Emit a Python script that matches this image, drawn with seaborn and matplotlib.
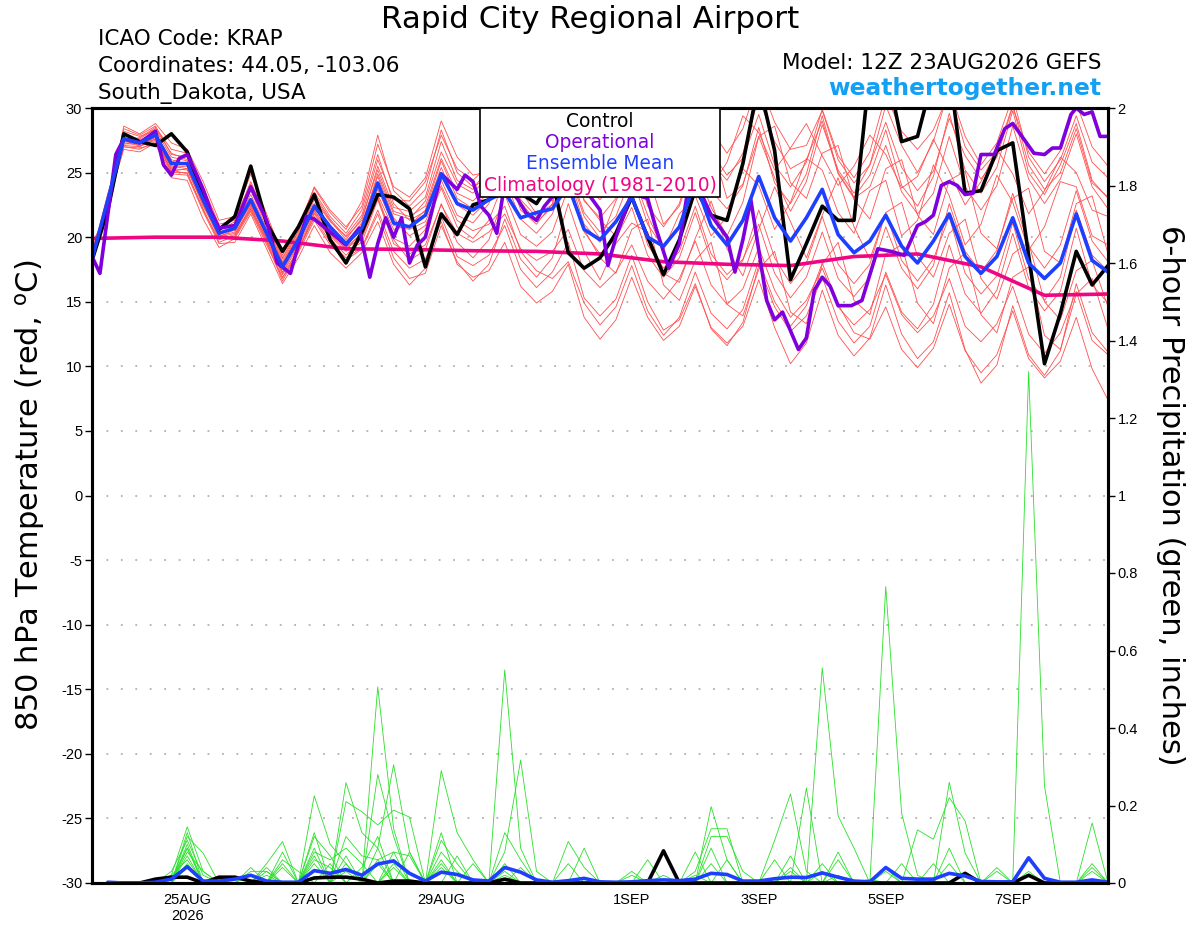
import numpy as np
import pandas as pd
import seaborn as sns
import matplotlib.pyplot as plt
from matplotlib.patches import Rectangle
from matplotlib.ticker import FuncFormatter

# GEFS run 12Z 23AUG2026, 6-hourly steps out to 384 h (65 steps)
n_steps = 65
date_ticks = [6, 14, 22, 34, 42, 50, 58]
date_labels = ['25AUG\n2026', '27AUG', '29AUG', '1SEP', '3SEP', '5SEP', '7SEP']

# 850 hPa temperature (C)
control_temp = [18.2, 22.1, 28.0, 27.4, 27.1, 28.0, 26.6, 23.1, 20.6, 21.6, 25.5, 21.1, 18.9, 20.8, 23.3, 19.8,
                18.0, 20.4, 23.3, 23.1, 22.2, 17.7, 21.8, 20.2, 22.5, 22.9, 23.8, 23.4, 22.6, 24.5, 18.8, 17.6,
                18.4, 20.3, 23.1, 20.0, 17.1, 19.8, 23.7, 21.7, 21.3, 25.7, 32.0, 26.7, 16.7, 19.5, 22.4, 21.3,
                21.3, 33.0, 33.5, 27.4, 27.8, 32.5, 33.0, 23.4, 23.6, 26.7, 27.3, 18.6, 10.2, 14.1, 18.9, 16.3, 17.8]
mean_temp = [18.3, 22.9, 27.6, 27.3, 27.9, 25.7, 25.7, 22.9, 20.3, 20.7, 22.9, 20.3, 17.7, 19.8, 22.4, 20.8,
             19.5, 20.7, 24.2, 21.1, 20.8, 21.7, 24.9, 22.6, 22.1, 22.9, 23.5, 21.5, 21.9, 22.2, 24.0, 20.6,
             19.8, 21.2, 23.1, 20.0, 19.3, 20.8, 24.3, 20.9, 19.4, 21.3, 24.7, 21.5, 19.7, 21.5, 23.7, 20.2,
             18.8, 19.7, 21.7, 19.3, 18.0, 19.7, 21.8, 18.5, 17.2, 18.5, 21.5, 18.0, 16.8, 18.0, 21.8, 18.2, 17.3]

# operational run is 3-hourly with irregular output, keyed by forecast hour
op_hours = [0, 3, 9, 12, 18, 24, 27, 30, 33, 36, 39, 42, 45, 48, 54, 60, 66, 70, 75, 81,
            84, 90, 96, 101, 105, 108, 111, 114, 117, 120, 123, 126, 132, 138, 141, 144, 147, 150, 153, 156,
            161, 164, 168, 171, 180, 186, 192, 195, 198, 204, 210, 213, 218, 222, 225, 228, 234, 240, 243, 246,
            249, 255, 258, 261, 267, 270, 273, 276, 279, 282, 287, 291, 297, 302, 307, 312, 315, 318, 321, 324,
            327, 330, 333, 336, 341, 345, 348, 356, 360, 363, 366, 370, 372, 375, 378, 381, 384]
op_temp = [18.5, 17.2, 26.4, 27.6, 27.3, 28.2, 25.6, 24.8, 26.1, 26.4, 25.1, 23.7, 22.0, 20.7, 20.9, 23.9, 21.3, 18.0, 17.2, 21.6,
           21.4, 20.4, 19.4, 20.7, 16.9, 19.5, 21.5, 20.0, 21.5, 18.0, 19.4, 20.0, 24.9, 23.7, 24.8, 24.3, 22.4, 21.7, 20.3, 24.2,
           22.9, 21.9, 21.3, 22.4, 24.6, 23.8, 22.1, 17.8, 20.0, 23.4, 23.0, 20.8, 17.6, 19.5, 23.4, 24.4, 21.7, 20.0, 17.3, 19.8,
           22.9, 15.1, 13.6, 14.2, 11.3, 12.2, 15.9, 16.9, 16.2, 14.7, 14.7, 15.1, 19.1, 18.9, 18.6, 20.9, 21.2, 21.7, 24.0, 24.3,
           24.0, 23.3, 23.4, 26.4, 26.4, 28.4, 28.8, 26.5, 26.4, 26.9, 26.9, 29.5, 30.0, 29.5, 29.7, 27.8, 27.8]

# 1981-2010 climatology, one value per day
clim_steps = [0, 4, 8, 12, 16, 20, 24, 28, 32, 36, 40, 44, 48, 52, 56, 60, 64]
clim_temp = [19.9, 20.0, 20.0, 19.7, 19.1, 19.05, 18.95, 18.9, 18.7, 18.1, 17.9, 17.8, 18.5, 18.7, 17.7, 15.5, 15.6]

member_temps = [
    [18.8, 22.5, 27.9, 27.6, 28.4, 26.5, 26.0, 23.4, 20.8, 21.0, 23.6, 20.9, 18.0, 20.2, 23.1, 21.3,
     19.8, 21.5, 25.2, 22.0, 21.6, 22.4, 26.1, 23.4, 22.8, 24.0, 27.2, 24.5, 23.8, 25.0, 28.5, 25.6,
     24.2, 26.8, 27.9, 24.1, 25.3, 28.2, 27.0, 23.9, 25.8, 29.4, 28.1, 25.2, 26.9, 28.8, 26.3, 24.0,
     25.5, 27.9, 26.4, 23.8, 24.7, 27.6, 25.1, 22.5, 24.3, 26.8, 24.9, 21.8, 23.6, 26.2, 25.0, 22.1, 21.6],
    [18.0, 23.2, 27.1, 27.0, 27.6, 25.0, 25.0, 22.1, 19.8, 20.2, 22.4, 19.8, 17.2, 19.3, 21.8, 20.1,
     18.9, 19.6, 22.9, 19.5, 18.7, 19.4, 22.5, 20.3, 19.6, 20.4, 21.8, 19.1, 18.2, 18.9, 20.6, 17.4,
     16.1, 17.3, 19.4, 16.6, 15.2, 16.8, 19.7, 16.3, 14.8, 16.0, 19.2, 15.9, 13.8, 15.1, 17.6, 14.6,
     13.2, 14.4, 17.1, 14.0, 12.6, 13.9, 16.8, 13.1, 11.9, 13.3, 16.2, 12.5, 11.0, 12.6, 15.8, 12.0, 10.9],
    [19.5, 22.0, 28.6, 28.0, 28.8, 27.3, 26.8, 24.3, 21.3, 21.6, 24.9, 21.8, 18.6, 20.9, 23.8, 21.9,
     20.6, 22.8, 27.9, 23.6, 22.4, 23.7, 28.3, 25.0, 23.9, 24.6, 28.9, 25.7, 24.1, 22.8, 25.3, 21.9,
     20.4, 21.6, 24.8, 21.0, 19.2, 20.9, 25.6, 22.3, 20.1, 22.7, 27.8, 24.6, 22.0, 24.3, 28.7, 25.2,
     23.4, 25.6, 30.2, 27.1, 25.0, 27.4, 31.5, 27.8, 25.6, 27.3, 30.9, 26.2, 24.3, 26.0, 29.4, 25.8, 24.6],
    [17.8, 22.8, 27.0, 26.9, 27.2, 24.6, 24.4, 21.4, 19.2, 19.9, 22.0, 19.4, 16.9, 18.8, 21.3, 19.4,
     18.2, 19.1, 21.8, 18.4, 16.8, 17.2, 20.9, 18.1, 16.6, 17.9, 21.4, 18.3, 16.9, 18.4, 22.6, 18.9,
     16.7, 19.5, 21.1, 20.4, 17.2, 16.5, 19.9, 22.8, 19.1, 17.0, 20.6, 23.9, 21.2, 18.4, 21.7, 24.6,
     20.8, 18.3, 21.9, 22.7, 18.5, 16.9, 20.3, 21.4, 16.8, 15.2, 18.7, 19.6, 15.0, 13.6, 17.4, 18.2, 14.6],
    [18.5, 23.0, 28.2, 27.8, 28.3, 26.2, 25.9, 23.2, 20.6, 20.9, 23.3, 20.7, 17.9, 20.1, 22.9, 21.2,
     20.1, 21.7, 26.0, 22.9, 22.8, 24.3, 27.9, 25.3, 24.4, 25.6, 29.1, 26.2, 25.1, 26.8, 30.4, 27.0,
     25.8, 27.2, 31.2, 28.1, 26.4, 27.9, 31.8, 28.3, 26.5, 28.4, 32.2, 28.9, 26.8, 27.1, 29.8, 26.0,
     24.2, 25.6, 28.9, 25.4, 23.6, 25.1, 29.2, 26.3, 24.5, 26.2, 30.1, 26.6, 24.9, 26.7, 30.4, 27.0, 25.5],
    [18.2, 22.6, 27.4, 27.2, 27.7, 25.3, 25.2, 22.6, 20.1, 20.4, 22.6, 20.0, 17.5, 19.6, 22.1, 20.4,
     19.2, 20.3, 23.7, 20.9, 20.6, 21.2, 24.0, 21.3, 20.5, 21.0, 22.4, 18.9, 17.4, 16.8, 18.1, 14.9,
     13.2, 14.6, 17.8, 14.3, 12.4, 13.8, 17.3, 14.1, 12.9, 14.4, 18.2, 15.0, 13.1, 14.7, 18.0, 14.8,
     12.6, 12.1, 14.6, 11.3, 9.9, 11.4, 14.8, 11.2, 9.5, 10.9, 14.3, 10.6, 9.1, 10.4, 13.8, 9.8, 7.4],
    [19.0, 22.2, 27.7, 27.5, 28.1, 25.8, 26.3, 23.6, 20.4, 20.5, 23.0, 20.5, 17.6, 19.9, 22.6, 20.9,
     19.4, 20.9, 24.9, 21.8, 21.4, 22.8, 26.6, 24.1, 23.4, 24.8, 26.3, 22.7, 21.2, 22.3, 24.9, 21.0,
     19.6, 22.8, 25.1, 21.7, 19.0, 21.8, 23.2, 20.1, 21.6, 25.3, 24.0, 20.6, 22.7, 26.1, 25.2, 21.9,
     20.3, 23.6, 24.4, 20.1, 21.3, 25.6, 23.2, 19.4, 21.0, 24.8, 22.7, 19.0, 20.8, 24.3, 23.9, 20.1, 19.4],
    [18.6, 23.4, 27.3, 27.1, 27.5, 25.4, 25.5, 22.7, 20.0, 20.6, 22.5, 20.2, 17.3, 19.5, 22.0, 20.5,
     19.6, 21.1, 24.7, 21.5, 20.1, 20.9, 23.8, 20.8, 19.9, 21.3, 24.5, 21.4, 20.3, 21.8, 25.1, 21.6,
     19.9, 21.1, 23.5, 19.4, 17.6, 18.9, 22.4, 18.7, 17.1, 18.3, 21.0, 17.2, 15.3, 16.9, 20.4, 16.8,
     15.4, 16.9, 20.8, 17.6, 16.0, 17.8, 22.6, 18.9, 17.3, 19.0, 23.4, 19.3, 17.6, 19.4, 23.6, 19.7, 18.1],
    [18.9, 22.4, 28.0, 27.4, 28.0, 26.0, 25.6, 22.9, 20.5, 21.2, 23.9, 21.2, 18.3, 20.5, 23.5, 21.6,
     20.3, 22.1, 26.4, 22.6, 21.3, 22.0, 25.4, 22.5, 21.7, 22.9, 25.8, 22.1, 21.0, 22.6, 26.7, 22.8,
     21.5, 23.0, 26.6, 22.4, 20.8, 22.6, 27.1, 23.6, 22.2, 24.0, 28.5, 24.2, 22.6, 24.9, 29.4, 25.0,
     23.1, 24.8, 28.3, 24.0, 22.4, 24.7, 29.6, 25.2, 23.4, 25.4, 29.8, 25.0, 23.3, 25.6, 28.8, 24.4, 23.0],
    [18.4, 22.7, 26.8, 26.6, 27.3, 24.9, 24.8, 22.0, 19.5, 19.6, 21.8, 19.1, 16.4, 18.4, 20.9, 18.8,
     17.6, 18.8, 21.2, 17.9, 16.3, 17.6, 21.6, 18.5, 17.8, 18.6, 20.9, 17.5, 16.1, 17.3, 19.6, 15.3,
     13.9, 15.2, 18.6, 15.0, 12.8, 13.6, 16.4, 12.9, 11.6, 13.4, 17.8, 14.6, 12.7, 13.9, 16.9, 13.5,
     11.8, 13.1, 17.3, 14.2, 12.9, 14.8, 19.4, 15.6, 14.1, 15.9, 20.3, 16.1, 14.3, 15.8, 20.7, 16.3, 14.9],
    [18.1, 23.1, 27.8, 27.0, 27.8, 25.5, 25.3, 22.4, 20.2, 20.8, 22.8, 20.4, 17.8, 20.0, 22.5, 20.6,
     19.0, 20.4, 23.3, 20.6, 20.9, 22.1, 25.9, 23.0, 22.2, 23.5, 27.6, 24.6, 23.4, 24.2, 26.8, 22.9,
     21.3, 20.1, 23.6, 24.9, 21.0, 22.4, 26.1, 27.3, 23.0, 24.1, 27.8, 28.6, 24.2, 23.0, 26.5, 27.1,
     22.9, 21.4, 25.3, 26.0, 21.7, 20.2, 24.4, 25.1, 20.3, 19.1, 23.0, 23.8, 18.9, 18.0, 22.6, 23.2, 18.7],
    [19.2, 22.1, 27.5, 27.7, 28.5, 26.8, 26.5, 23.9, 21.0, 21.3, 24.3, 21.5, 18.4, 20.7, 23.9, 22.1,
     20.8, 22.4, 27.2, 23.9, 23.1, 24.6, 29.0, 26.2, 24.8, 25.1, 27.8, 23.6, 21.8, 22.5, 24.6, 20.4,
     18.7, 19.9, 22.3, 18.6, 16.9, 18.4, 21.9, 18.2, 16.7, 18.2, 22.1, 18.4, 16.4, 18.0, 21.6, 17.9,
     16.4, 17.9, 21.9, 18.2, 16.6, 18.3, 21.6, 17.2, 15.6, 17.0, 21.1, 16.8, 15.1, 16.9, 22.1, 18.6, 17.4],
    [17.9, 22.9, 27.2, 27.3, 27.9, 25.6, 25.8, 22.8, 20.0, 20.3, 22.2, 19.7, 16.8, 19.1, 21.6, 19.9,
     18.6, 19.9, 23.1, 19.9, 19.3, 20.6, 24.4, 21.7, 21.1, 22.6, 26.0, 22.9, 21.6, 23.1, 27.3, 24.1,
     22.9, 24.3, 28.1, 25.0, 23.7, 25.1, 29.1, 25.8, 24.4, 26.5, 30.8, 27.4, 25.3, 26.0, 29.0, 24.9,
     23.0, 23.9, 27.1, 23.5, 21.8, 23.4, 27.8, 23.9, 22.1, 24.0, 28.6, 24.5, 22.6, 24.5, 28.0, 23.9, 22.2],
    [18.7, 22.6, 27.6, 27.2, 27.6, 25.1, 25.3, 22.5, 19.9, 20.0, 22.3, 19.9, 17.1, 19.0, 21.5, 19.6,
     18.4, 19.2, 22.1, 18.9, 17.6, 18.3, 21.2, 17.9, 16.9, 17.4, 19.6, 16.2, 14.9, 15.8, 17.9, 13.8,
     12.1, 13.6, 16.9, 13.8, 12.0, 13.1, 16.2, 13.0, 11.8, 13.1, 16.7, 13.0, 10.2, 11.8, 15.9, 12.4,
     10.8, 12.2, 16.3, 12.5, 10.6, 11.9, 15.7, 11.3, 8.7, 10.1, 14.7, 10.9, 9.3, 11.2, 16.4, 12.6, 11.1],
    [18.3, 23.0, 28.4, 27.9, 28.6, 26.4, 26.2, 23.1, 20.7, 21.4, 24.1, 21.0, 18.1, 20.4, 23.3, 21.4,
     20.0, 21.3, 25.5, 22.3, 22.0, 23.1, 27.4, 24.4, 23.7, 25.4, 29.6, 26.9, 25.6, 26.2, 29.2, 25.4,
     24.0, 25.9, 29.9, 26.8, 25.1, 26.8, 30.4, 26.6, 24.8, 26.1, 29.5, 25.6, 23.9, 25.8, 29.9, 26.3,
     24.6, 26.6, 31.0, 28.2, 26.8, 28.3, 31.2, 27.0, 25.2, 26.6, 30.2, 25.6, 23.7, 25.0, 28.4, 24.2, 23.1],
    [18.0, 22.3, 27.0, 26.8, 27.4, 25.2, 24.9, 22.2, 19.6, 20.1, 22.1, 19.6, 16.6, 18.9, 21.9, 20.2,
     19.1, 20.0, 23.0, 19.8, 18.2, 19.0, 22.6, 19.6, 18.4, 19.8, 23.3, 20.2, 19.3, 20.4, 23.8, 20.6,
     18.4, 17.2, 20.6, 21.4, 16.3, 15.1, 18.2, 19.6, 14.8, 13.9, 17.5, 18.9, 14.2, 13.3, 17.9, 19.6,
     15.1, 14.0, 18.7, 19.4, 14.9, 13.3, 17.6, 18.8, 14.0, 12.6, 16.9, 17.7, 12.4, 11.3, 15.6, 16.8, 12.9],
]

# 6-hour precipitation (inches); step 0 has no accumulation
nan = np.nan
control_precip = [nan, 0, 0, 0, 0.01, 0.015, 0.015, 0, 0.015, 0.015, 0.005, 0, 0, 0, 0.013, 0.015,
                  0.015, 0.01, 0, 0.005, 0.005, 0, 0, 0, 0, 0, 0.01, 0, 0, 0, 0, 0,
                  0, 0, 0, 0, 0.083, 0, 0, 0, 0, 0, 0, 0, 0, 0, 0, 0,
                  0, 0, 0, 0, 0, 0, 0, 0.025, 0, 0, 0, 0.02, 0, 0, 0, 0, 0]
mean_precip = [nan, 0.002, 0, 0, 0.002, 0.01, 0.042, 0.005, 0.005, 0.01, 0.02, 0.005, 0.002, 0.002, 0.032, 0.025,
               0.035, 0.02, 0.049, 0.057, 0.025, 0.005, 0.028, 0.022, 0.008, 0.005, 0.04, 0.028, 0.008, 0.002, 0.006, 0.012,
               0.003, 0.002, 0.003, 0.006, 0.008, 0.006, 0.01, 0.025, 0.022, 0.005, 0.005, 0.011, 0.015, 0.014, 0.026, 0.015,
               0.005, 0.003, 0.04, 0.012, 0.01, 0.01, 0.025, 0.018, 0.004, 0.003, 0.003, 0.065, 0.012, 0.002, 0.002, 0.008, 0.002]

# ensemble member precipitation, listed as {step: amount}; all other steps are dry
member_precip = [
    {5: 0.02, 6: 0.145, 7: 0.03, 14: 0.225, 15: 0.10, 16: 0.05, 18: 0.506, 19: 0.14, 22: 0.06, 26: 0.13, 27: 0.06,
     39: 0.197, 40: 0.06, 44: 0.07, 46: 0.05, 54: 0.09, 59: 0.03},
    {6: 0.12, 7: 0.077, 11: 0.05, 12: 0.107, 16: 0.259, 17: 0.13, 18: 0.09, 19: 0.305, 20: 0.08, 22: 0.13, 26: 0.55,
     27: 0.09, 30: 0.107, 31: 0.04, 43: 0.11, 44: 0.23, 45: 0.03, 50: 0.04, 54: 0.26, 55: 0.077, 63: 0.04},
    {6: 0.10, 10: 0.04, 12: 0.08, 14: 0.13, 16: 0.21, 17: 0.184, 18: 0.15, 19: 0.188, 20: 0.17, 22: 0.29, 23: 0.13,
     24: 0.06, 38: 0.03, 39: 0.14, 40: 0.14, 46: 0.555, 47: 0.173, 48: 0.09, 57: 0.04, 63: 0.155},
    {5: 0.01, 6: 0.09, 11: 0.04, 14: 0.12, 15: 0.07, 18: 0.28, 19: 0.12, 23: 0.07, 26: 0.08, 27: 0.317, 28: 0.03,
     35: 0.06, 39: 0.12, 40: 0.12, 41: 0.03, 45: 0.245, 47: 0.08, 50: 0.765, 51: 0.18, 52: 0.02, 59: 1.32, 60: 0.25},
    {6: 0.08, 7: 0.03, 12: 0.06, 13: 0.03, 16: 0.12, 17: 0.07, 18: 0.06, 19: 0.08, 22: 0.11, 23: 0.05, 31: 0.09,
     38: 0.08, 44: 0.03, 47: 0.06, 52: 0.137, 53: 0.113, 54: 0.22, 55: 0.16, 63: 0.05},
    {6: 0.07, 10: 0.03, 11: 0.03, 14: 0.08, 15: 0.06, 16: 0.09, 17: 0.05, 19: 0.08, 20: 0.07, 26: 0.05, 30: 0.05,
     34: 0.03, 39: 0.05, 43: 0.06, 51: 0.05, 53: 0.05, 57: 0.03},
    {5: 0.02, 6: 0.06, 12: 0.04, 14: 0.06, 15: 0.04, 18: 0.09, 20: 0.08, 22: 0.05, 24: 0.05, 36: 0.02, 40: 0.06},
    {6: 0.05, 8: 0.01, 16: 0.05, 18: 0.06, 26: 0.03, 34: 0.02, 49: 0.01, 54: 0.05},
    {5: 0.03, 6: 0.11, 7: 0.02, 11: 0.02, 14: 0.09, 16: 0.07, 19: 0.05, 22: 0.08, 23: 0.03},
    {6: 0.13, 10: 0.02, 12: 0.05, 15: 0.05, 17: 0.04, 18: 0.12, 39: 0.09, 44: 0.04, 50: 0.03},
    {6: 0.04, 14: 0.05, 16: 0.03, 19: 0.04, 27: 0.04, 38: 0.02, 46: 0.03, 55: 0.02, 63: 0.03},
    {6: 0.09, 11: 0.03, 14: 0.07, 18: 0.05, 22: 0.04, 26: 0.02, 47: 0.02},
]

RED = '#ff4f4f'
GREEN = '#2ae02a'
PURPLE = '#7f00dc'
BLUE = '#1f3fff'
PINK = '#ee0683'

steps = np.arange(n_steps)

temp_rows = []
for k, vals in enumerate(member_temps):
    for s, v in zip(steps, vals):
        temp_rows.append((k, s, v))
temp_df = pd.DataFrame(temp_rows, columns=['member', 'step', 'temp'])

precip_rows = []
for k, amounts in enumerate(member_precip):
    for s in steps[1:]:
        precip_rows.append((k, s, amounts.get(int(s), 0.0)))
precip_df = pd.DataFrame(precip_rows, columns=['member', 'step', 'precip'])

sns.set_theme(style='white')
plt.rcParams['font.family'] = ['Liberation Sans', 'DejaVu Sans']
plt.rcParams['axes.unicode_minus'] = False
for key in ('text.color', 'axes.labelcolor', 'xtick.color', 'ytick.color', 'axes.edgecolor'):
    plt.rcParams[key] = 'black'

fig = plt.figure(figsize=(12, 9.27), dpi=100)
ax1 = fig.add_axes([92 / 1200, 44 / 927, 1016 / 1200, 775 / 927])
ax2 = ax1.twinx()

# temperature
sns.lineplot(data=temp_df, x='step', y='temp', units='member', estimator=None,
             color=RED, lw=0.6, ax=ax1, legend=False)
sns.lineplot(x=clim_steps, y=clim_temp, color=PINK, lw=2.6, ax=ax1)
sns.lineplot(x=steps, y=control_temp, color='black', lw=2.6, ax=ax1)
sns.lineplot(x=np.array(op_hours) / 6, y=op_temp, color=PURPLE, lw=2.6, ax=ax1)
sns.lineplot(x=steps, y=mean_temp, color=BLUE, lw=2.6, ax=ax1)

# precipitation
sns.lineplot(data=precip_df, x='step', y='precip', units='member', estimator=None,
             color=GREEN, lw=0.6, ax=ax2, legend=False)
sns.lineplot(x=steps, y=control_precip, color='black', lw=2.6, ax=ax2)
sns.lineplot(x=steps, y=mean_precip, color=BLUE, lw=2.6, ax=ax2)

ax1.set_xlim(0, 64)
ax1.set_ylim(-30, 30)
ax2.set_ylim(0, 2)
ax1.set_yticks(np.arange(-30, 31, 5))
ax2.set_yticks(np.arange(0, 2.01, 0.2))
ax2.yaxis.set_major_formatter(FuncFormatter(lambda v, p: '%g' % round(v, 1)))
ax1.set_xticks(date_ticks)
ax1.set_xticklabels(date_labels)
for ax in (ax1, ax2):
    ax.set_xlabel('')
    ax.set_ylabel('')
    ax.tick_params(direction='out', length=5, width=1, labelsize=10.5, colors='black', pad=2)
    for sp in ax.spines.values():
        sp.set_linewidth(2.2)
        sp.set_color('black')
ax1.grid(False)
ax2.grid(False)
for v in range(-25, 30, 5):
    ax1.axhline(v, color='#b0b0b0', lw=1.3, linestyle=(0, (1, 7)), zorder=0)

# legend box
big = ['DejaVu Sans']
ax2.add_patch(Rectangle((0.382, 0.885), 0.236, 0.115, transform=ax2.transAxes,
                        facecolor='white', edgecolor='black', lw=1.2, zorder=20, clip_on=False))
legend_items = [('Control', 'black'), ('Operational', PURPLE),
                ('Ensemble Mean', BLUE), ('Climatology (1981-2010)', PINK)]
for j, (txt, col) in enumerate(legend_items):
    ax2.text(0.5, 0.983 - j * 0.0275, txt, color=col, fontsize=13.4, ha='center', va='center',
             transform=ax2.transAxes, zorder=21, family=big)

# header and axis titles
fig.text(590 / 1200, 1 - 19 / 927, 'Rapid City Regional Airport', fontsize=22.3, ha='center', va='center',
         family=big)
fig.text(98 / 1200, 1 - 39 / 927, 'ICAO Code: KRAP', fontsize=15.5, ha='left', va='center', family=big)
fig.text(98 / 1200, 1 - 66 / 927, 'Coordinates: 44.05, -103.06', fontsize=15.5, ha='left', va='center',
         family=big)
fig.text(98 / 1200, 1 - 93 / 927, 'South_Dakota, USA', fontsize=15.5, ha='left', va='center', family=big)
fig.text(1101 / 1200, 1 - 63 / 927, 'Model: 12Z 23AUG2026 GEFS', fontsize=15.5, ha='right', va='center',
         family=big)
fig.text(1101 / 1200, 1 - 89 / 927, 'weathertogether.net', fontsize=16.8, ha='right', va='center',
         color='#12a0f5', fontweight='bold', family=big)
fig.text(30 / 1200, 1 - 495 / 927, r'850 hPa Temperature (red, $^\mathrm{o}$C)', fontsize=22,
         rotation=90, ha='center', va='center', family=big)
fig.text(1170 / 1200, 1 - 495 / 927, '6-hour Precipitation (green, inches)', fontsize=22,
         rotation=-90, ha='center', va='center', family=big)

fig.savefig('out.png', dpi=100)
